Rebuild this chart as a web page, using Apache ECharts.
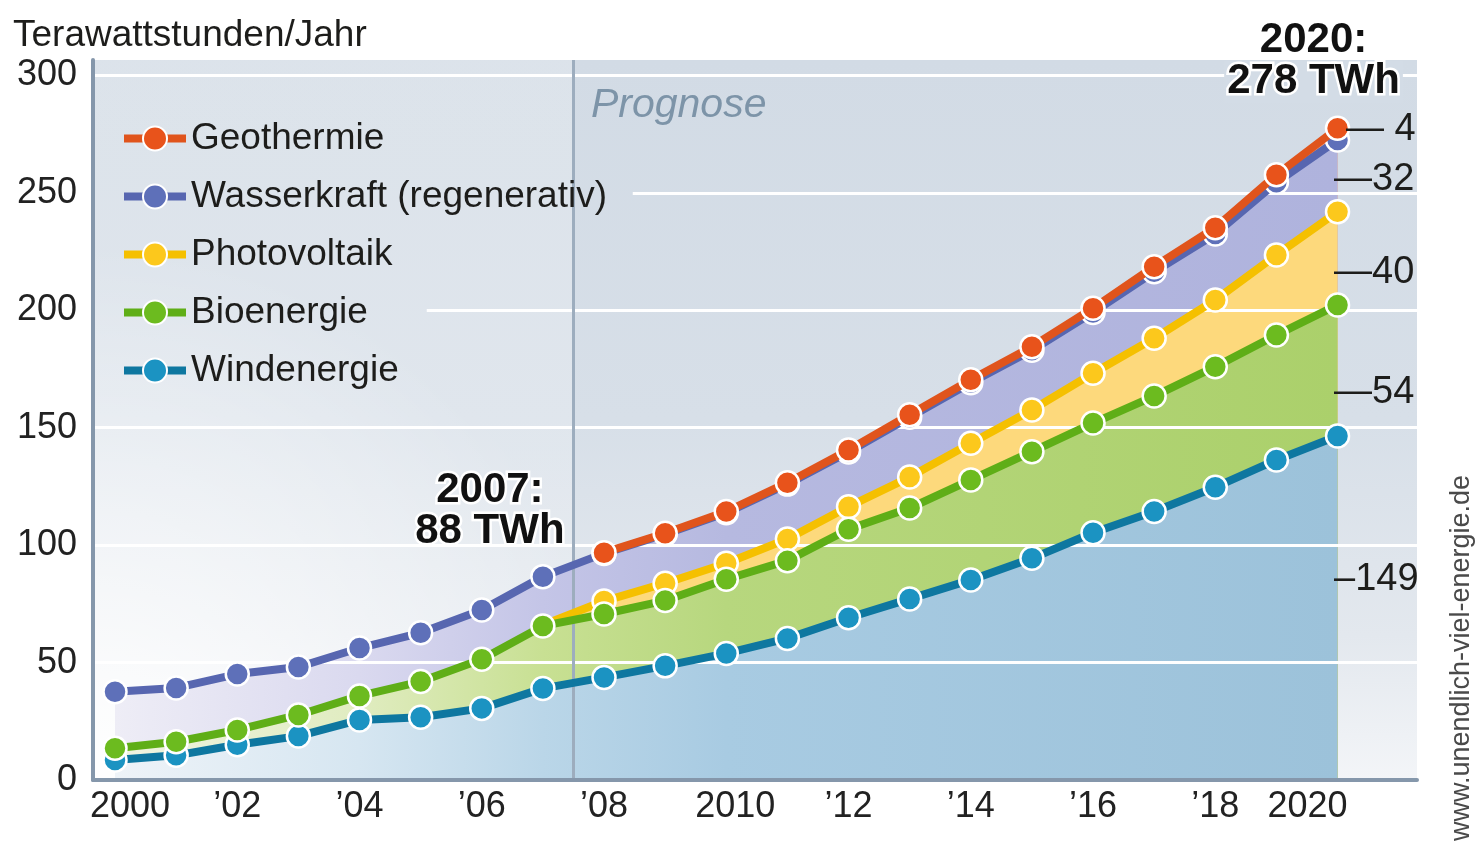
<!DOCTYPE html>
<html>
<head>
<meta charset="utf-8">
<script src="https://cdn.jsdelivr.net/npm/echarts@6.0.0/dist/echarts.min.js"></script>
<style>
  html, body { margin: 0; padding: 0; background: #fff; }
  #main { width: 1479px; height: 850px; }
</style>
</head>
<body>
<div id="main"></div>
<script>
// Jahre und Anteile je Energieträger (TWh je Schicht)
var years = [2000, 2001, 2002, 2003, 2004, 2005, 2006, 2007, 2008, 2009, 2010,
             2011, 2012, 2013, 2014, 2015, 2016, 2017, 2018, 2019, 2020];
var wind   = [8.5, 10.5, 15.0, 18.7, 25.6, 26.7, 30.5, 39.0, 43.7, 48.6, 53.9,
              60.3, 69.1, 77.1, 85.2, 94.4, 105.3, 114.3, 124.7, 136.3, 146.5];
var bio    = [5.0, 5.8, 6.3, 9.0, 10.2, 15.2, 20.9, 26.6, 27.0, 27.8, 31.6,
              33.1, 37.7, 38.7, 42.6, 45.4, 46.7, 49.2, 51.3, 53.2, 55.8];
var pv     = [null, null, null, null, null, null, null, 0.4, 5.5, 7.4, 6.8,
              9.2, 9.6, 13.2, 15.6, 17.8, 21.2, 24.6, 28.4, 34.1, 39.7];
var wasser = [24.1, 22.9, 23.8, 20.4, 20.4, 20.8, 21.0, 20.6, 20.3, 20.9, 21.5,
              23.4, 23.3, 25.5, 25.8, 25.4, 25.9, 28.3, 28.1, 30.9, 30.5];
var geo    = [null, null, null, null, null, null, null, null, 0.3, 0.4, 0.5,
              0.6, 0.8, 1.0, 1.2, 1.5, 1.8, 2.2, 2.7, 3.2, 5.0];

var tickYears  = [2000, 2002, 2004, 2006, 2008, 2010, 2012, 2014, 2016, 2018, 2020];
var tickLabels = ['2000', '\u201902', '\u201904', '\u201906', '\u201908', '2010',
                  '\u201912', '\u201914', '\u201916', '\u201918', '2020'];
var gridValues = [50, 100, 150, 200, 250, 300];
var legendNames = ['Geothermie', 'Wasserkraft (regenerativ)', 'Photovoltaik', 'Bioenergie', 'Windenergie'];
var sideLabels  = { geo: '\u2014 4', wasser: '\u201432', pv: '\u201440', bio: '\u201454', wind: '\u2013149' };

var FONT = '"Liberation Sans", Arial, Helvetica, sans-serif';
var TXT = '#1d1d1b';
var X_MIN = 1999.64, X_MAX = 2021.3, Y_MAX = 306.6;

function hgrad(stops) {
  return { type: 'linear', x: 0, y: 0, x2: 1, y2: 0,
    colorStops: stops.map(function (s) { return { offset: s[0], color: s[1] }; }) };
}

// von unten nach oben geschichtet
var layers = [
  { key: 'wind', name: 'Windenergie', vals: wind, line: '#0e77a0', dot: '#1b93c2', z: 10,
    fill: hgrad([[0, '#eef3f8'], [0.2, '#d6e6f1'], [0.35, '#bad6e8'], [0.5, '#a8cbe2'], [1, '#9cc2da']]),
    side: 85.2, dist: -4 },
  { key: 'bio', name: 'Bioenergie', vals: bio, line: '#5fae17', dot: '#6cbb1f', z: 12,
    fill: hgrad([[0, '#f0f4e2'], [0.2, '#e0ecc0'], [0.35, '#c8e093'], [0.5, '#b7d77e'], [1, '#abd06b']]),
    side: 165.2, dist: -4 },
  { key: 'pv', name: 'Photovoltaik', vals: pv, line: '#f5c000', dot: '#fcc81c', z: 11,
    fill: '#fdd97c', hide: [2007], side: 215.9, dist: -4 },
  { key: 'wasser', name: 'Wasserkraft (regenerativ)', vals: wasser, line: '#5766b0', dot: '#5e70b9', z: 13,
    fill: hgrad([[0, '#eeedf6'], [0.2, '#dad9ef'], [0.35, '#c4c5e7'], [0.5, '#b6b9e0'], [1, '#afb3dd']]),
    side: 255.5, dist: -4 },
  { key: 'geo', name: 'Geothermie', vals: geo, line: '#e0541c', dot: '#e8531b', z: 14,
    fill: '#f2a27e', side: 276.8, dist: 8 }
];

// Obergrenze jeder Schicht = Summe der darunterliegenden Anteile
var running = years.map(function () { return 0; });
layers.forEach(function (L) {
  L.top = years.map(function (y, i) {
    if (L.vals[i] == null) return null;
    running[i] += L.vals[i];
    return Math.round(running[i] * 100) / 100;
  });
});

function note(coord, label) {
  return { coord: coord, symbol: 'circle', symbolSize: 1,
    itemStyle: { color: 'rgba(0,0,0,0)' }, label: label };
}

var boldNote = { show: true, position: 'inside', fontFamily: FONT, fontSize: 42, fontWeight: 'bold',
  lineHeight: 41, color: '#111', textBorderColor: '#fff', textBorderWidth: 5, align: 'center' };

// weiße Gitterlinien über den Flächen; hinter der Legende ausgespart
var gridLineStart = { 200: 2005.1, 250: 2008.47 };
var gridLines = gridValues.map(function (v) {
  return [{ coord: [gridLineStart[v] || X_MIN, v] }, { coord: [X_MAX, v] }];
});

var series = [];

// Flächen: oberste Schicht zuerst, jede bis zur Null-Linie, die untere überdeckt
layers.slice().reverse().forEach(function (L) {
  var s = {
    name: 'Fläche ' + L.name, type: 'line', z: 2, silent: true,
    symbol: 'none', showSymbol: false,
    lineStyle: { width: 0 }, areaStyle: { color: L.fill, opacity: 1, origin: 'start' },
    data: years.map(function (y, i) { return [y, L.top[i] == null ? '-' : L.top[i]]; })
  };
  if (L.key === 'geo') {
    s.markArea = { silent: true, z: 1,
      itemStyle: { color: { type: 'radial', x: 0, y: 1, r: 1.1, colorStops: [
        { offset: 0, color: 'rgba(255,255,255,0.95)' },
        { offset: 0.6, color: 'rgba(255,255,255,0.5)' },
        { offset: 1, color: 'rgba(255,255,255,0.22)' }] } },
      data: [[{ xAxis: X_MIN, yAxis: 0 }, { xAxis: 2007.5, yAxis: Y_MAX }]] };
    s.markLine = { silent: true, z: 3, symbol: ['none', 'none'], label: { show: false },
      lineStyle: { color: '#ffffff', width: 3, type: 'solid' },
      data: gridLines.concat([{ xAxis: 2007.5, lineStyle: { color: '#9dadbe', width: 3 } }]) };
    s.markPoint = { silent: true, z: 20, data: [
      note([2007.5, 300], { show: true, position: 'right', distance: 17, offset: [0, 30],
        formatter: 'Prognose', fontFamily: FONT, fontSize: 41, fontStyle: 'italic', color: '#7d94a8' })
    ] };
  }
  series.push(s);
});

// Linien mit Punkten
layers.forEach(function (L) {
  var marks = [
    note([2020, L.side], { show: true, position: 'right', distance: L.dist, formatter: sideLabels[L.key],
      fontFamily: FONT, fontSize: 38, color: TXT })
  ];
  if (L.key === 'wasser') {
    marks.push(note([2007, 86.6], Object.assign({ formatter: '2007:\n88 TWh', offset: [-53, -66] }, boldNote)));
  }
  if (L.key === 'geo') {
    marks.push(note([2020, 277.5], Object.assign({}, boldNote, {
      formatter: '{a|2020:}\n{b|278 TWh}', offset: [-24, -67],
      rich: {
        a: { fontFamily: FONT, fontSize: 42, fontWeight: 'bold', lineHeight: 41, color: '#111',
             textBorderColor: '#fff', textBorderWidth: 5 },
        b: { fontFamily: FONT, fontSize: 42, fontWeight: 'bold', lineHeight: 41, color: '#111',
             textBorderColor: '#fff', textBorderWidth: 5, backgroundColor: '#d3dce6', padding: [0, 3] }
      }
    })));
  }
  series.push({
    name: L.name, type: 'line', z: L.z,
    symbol: 'circle', symbolSize: 23, showAllSymbol: true,
    lineStyle: { width: 8, color: L.line },
    itemStyle: { color: L.dot, borderColor: '#fff', borderWidth: 2.5 },
    emphasis: { disabled: true },
    data: years.map(function (y, i) {
      var v = L.top[i];
      if (v == null) return [y, '-'];
      if (L.hide && L.hide.indexOf(y) >= 0) return { value: [y, v], symbol: 'none' };
      return [y, v];
    }),
    markPoint: { silent: true, z: 20, data: marks }
  });
});

var chart = echarts.init(document.getElementById('main'));
chart.setOption({
  animation: false,
  backgroundColor: '#fff',
  textStyle: { fontFamily: FONT },
  title: {
    text: 'Terawattstunden/Jahr', left: 13, top: 17, padding: 0,
    textStyle: { fontFamily: FONT, fontSize: 37, fontWeight: 'normal', color: TXT }
  },
  legend: {
    data: legendNames, orient: 'vertical', left: 97, top: 112,
    itemWidth: 62, itemHeight: 30, itemGap: 21, padding: [8, 20, 8, 23],
    selectedMode: false, z: 4,
    lineStyle: { width: 8 },
    textStyle: { fontFamily: FONT, fontSize: 37, color: TXT }
  },
  grid: {
    left: 93, right: 62, top: 60, bottom: 70, show: true, borderWidth: 0,
    backgroundColor: { type: 'linear', x: 0, y: 0, x2: 0, y2: 1, colorStops: [
      { offset: 0, color: '#d2dbe5' }, { offset: 0.5, color: '#d7dfe8' },
      { offset: 0.8, color: '#e3e8ee' }, { offset: 1, color: '#f3f5f8' }] }
  },
  xAxis: {
    type: 'value', min: X_MIN, max: X_MAX, z: 3,
    axisLine: { show: true, lineStyle: { color: '#8597ab', width: 4 } },
    axisTick: { show: false },
    splitLine: { show: false },
    axisLabel: {
      customValues: tickYears, margin: 9, fontFamily: FONT, fontSize: 36, color: '#222',
      formatter: function (v) {
        var t = tickLabels[tickYears.indexOf(Math.round(v))];
        if (v === 2000) return '{l|' + t + '}';
        if (v === 2010) return '{m|' + t + '}';
        if (v === 2020) return '{r|' + t + '}';
        return t;
      },
      rich: {
        l: { fontFamily: FONT, fontSize: 36, color: '#222', padding: [0, 0, 0, 30] },
        m: { fontFamily: FONT, fontSize: 36, color: '#222', padding: [0, 0, 0, 18] },
        r: { fontFamily: FONT, fontSize: 36, color: '#222', padding: [0, 60, 0, 0] }
      }
    }
  },
  yAxis: {
    type: 'value', min: 0, max: Y_MAX, interval: 50, z: 3,
    axisLine: { show: true, lineStyle: { color: '#8597ab', width: 4 } },
    axisTick: { show: false },
    splitLine: { show: false },
    axisLabel: {
      margin: 16, fontFamily: FONT, fontSize: 36, color: '#222',
      formatter: function (v) { return v % 50 === 0 ? String(v) : ''; }
    }
  },
  graphic: [{
    type: 'text', x: 1462, y: 658, rotation: Math.PI / 2, silent: true,
    style: { text: 'www.unendlich-viel-energie.de', fontFamily: FONT, fontSize: 27,
      fill: '#4a4a4a', align: 'center', verticalAlign: 'middle',
      textAlign: 'center', textVerticalAlign: 'middle' }
  }],
  series: series
});
</script>
</body>
</html>
